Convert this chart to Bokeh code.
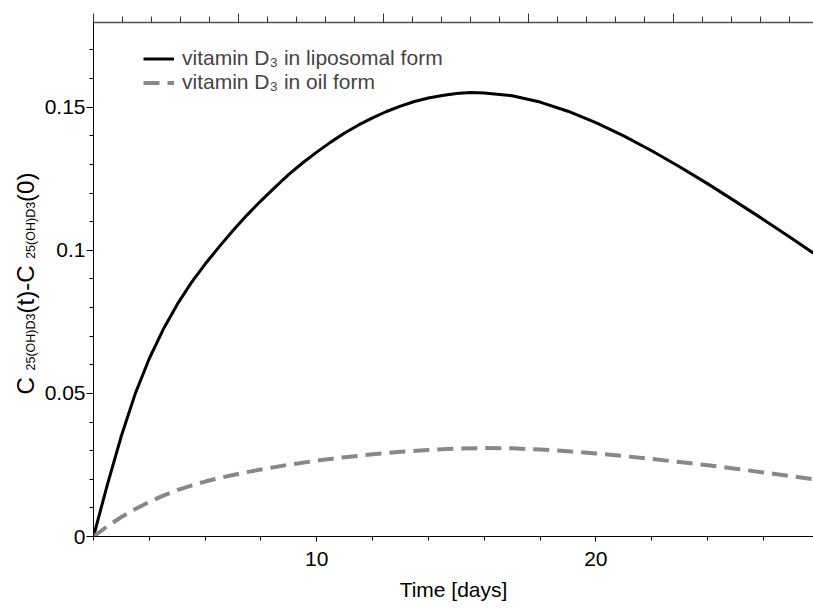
import math
from bokeh.plotting import figure
from bokeh.layouts import row
from bokeh.models import (Range1d, LinearAxis, SingleIntervalTicker, Legend, LegendItem,
                          CustomJSTickFormatter, ColumnDataSource)
from bokeh.core.properties import value
from bokeh.embed import file_html
from bokeh.resources import INLINE

# ---------------- data ----------------
t_lipo = [2.0, 2.5, 3.0, 3.5, 4.0, 4.5, 5.0, 5.5, 6.0, 6.5, 7.0, 7.5, 8.0, 8.5, 9.0,
          9.5, 10.0, 10.5, 11.0, 11.5, 12.0, 12.5, 13.0, 13.5, 14.0, 14.5, 15.0, 15.5,
          16.0, 17.0, 18.0, 19.0, 20.0, 21.0, 22.0, 23.0, 24.0, 25.0, 26.0, 27.0, 27.8]
liposomal = [0.0, 0.0182, 0.0352, 0.0500, 0.0622, 0.0724, 0.0811, 0.0886, 0.0952,
             0.1012, 0.1069, 0.1123, 0.1173, 0.1220, 0.1265, 0.1306, 0.1343, 0.1378,
             0.1410, 0.1438, 0.1463, 0.1485, 0.1504, 0.1520, 0.1532, 0.1541, 0.1548,
             0.1551, 0.1550, 0.1540, 0.1518, 0.1486, 0.1446, 0.1400, 0.1348, 0.1292,
             0.1233, 0.1171, 0.1108, 0.1043, 0.0990]
t_oil = [2.0, 2.5, 3.0, 3.5, 4.0, 4.5, 5.0, 5.5, 6.0, 6.5, 7.0, 7.5, 8.0, 9.0, 10.0,
         11.0, 12.0, 13.0, 14.0, 15.0, 16.0, 17.0, 18.0, 19.0, 20.0, 21.0, 22.0, 23.0,
         24.0, 25.0, 26.0, 27.0, 27.8]
oil = [0.0, 0.0036, 0.0068, 0.0096, 0.0121, 0.0143, 0.0162, 0.0178, 0.0192, 0.0204,
       0.0215, 0.0225, 0.0234, 0.0251, 0.0265, 0.0277, 0.0287, 0.0296, 0.0302, 0.0307,
       0.0309, 0.0308, 0.0304, 0.0298, 0.0290, 0.0281, 0.0271, 0.0260, 0.0249, 0.0237,
       0.0224, 0.0211, 0.0200]
series_labels = ["vitamin D\u2083 in liposomal form", "vitamin D\u2083 in oil form"]
x_label = "Time [days]"
# y-axis title  C_{25(OH)D3}(t) - C_{25(OH)D3}(0), written piece by piece
y_label_parts = ["C", "25(OH)D3", "(t)-C", "25(OH)D3", "(0)"]
y_label_is_sub = [False, True, False, True, False]
y_label_space_after = [True, False, True, False, False]

FONT = "Liberation Sans"
LW = 41           # width of the strip holding the y-axis title
W, H = 813, 608
TOP, BOTTOM = 22, 72   # border sizes above / below the plotting frame

p = figure(width=W - LW, height=H, output_backend="svg", toolbar_location=None,
           x_range=Range1d(2, 27.8), y_range=Range1d(0, 0.1796),
           min_border_left=91 - LW, min_border_right=0, min_border_top=TOP,
           min_border_bottom=BOTTOM)
p.grid.visible = False
p.outline_line_color = None
p.background_fill_color = "white"

# bottom axis
xa = p.xaxis[0]
xa.ticker = SingleIntervalTicker(interval=10, num_minor_ticks=5)
xa.major_tick_in = 0
xa.major_tick_out = 5
xa.minor_tick_in = 0
xa.minor_tick_out = 4
xa.axis_line_color = "black"
xa.major_tick_line_color = "black"
xa.minor_tick_line_color = "black"
xa.major_label_text_font = FONT
xa.major_label_text_font_size = "21px"
xa.major_label_text_color = "black"
xa.major_label_standoff = 10
xa.axis_label = x_label
xa.axis_label_text_font = FONT
xa.axis_label_text_font_size = "21px"
xa.axis_label_text_font_style = "normal"
xa.axis_label_text_color = "black"
xa.axis_label_standoff = 9

# left axis
ya = p.yaxis[0]
ya.ticker = SingleIntervalTicker(interval=0.05, num_minor_ticks=5)
ya.formatter = CustomJSTickFormatter(
    code="return tick.toFixed(2).replace(/0+$/, '').replace(/\\.$/, '');")
ya.major_tick_in = 0
ya.major_tick_out = 7
ya.minor_tick_in = 0
ya.minor_tick_out = 4
ya.axis_line_color = "black"
ya.major_tick_line_color = "black"
ya.minor_tick_line_color = "black"
ya.major_label_text_font = FONT
ya.major_label_text_font_size = "21px"
ya.major_label_text_color = "black"
ya.major_label_standoff = 1

# top axis (unlabelled tick scale)
p.extra_x_ranges = {"top": Range1d(0, (813 - 91) / 29.06)}
ta = LinearAxis(x_range_name="top",
                ticker=SingleIntervalTicker(interval=5, num_minor_ticks=5),
                formatter=CustomJSTickFormatter(code="return '';"),
                major_tick_in=0, major_tick_out=9, minor_tick_in=0, minor_tick_out=6,
                major_label_standoff=0, major_label_text_font_size="1px",
                axis_line_color="#555555", axis_line_width=1.5,
                major_tick_line_color="#333333", minor_tick_line_color="#333333")
p.add_layout(ta, "above")

# curves
r1 = p.line(t_lipo, liposomal, line_color="black", line_width=3)
r2 = p.line(t_oil, oil, line_color="#888888", line_width=4, line_dash="16 8")

legend = Legend(items=[LegendItem(label=series_labels[0], renderers=[r1]),
                       LegendItem(label=series_labels[1], renderers=[r2])],
                location=(50, 442), padding=0, margin=0, spacing=0,
                glyph_width=31, glyph_height=23, label_height=23, label_standoff=8,
                label_text_font=FONT, label_text_font_size="21px",
                border_line_color=None, background_fill_alpha=0)
p.add_layout(legend)

# ---- strip with the rotated y-axis title (subscripts composed from pieces) ----
# its frame is aligned with the main frame, so map data y == (H - canvas y)
q = figure(width=LW, height=H, output_backend="svg", toolbar_location=None,
           x_range=Range1d(0, LW), y_range=Range1d(BOTTOM, H - TOP),
           min_border_left=0, min_border_right=0, min_border_top=TOP,
           min_border_bottom=BOTTOM, x_axis_location=None, y_axis_location=None)
q.grid.visible = False
q.outline_line_color = None

ARIAL = {"C": 0.722, " ": 0.278, "2": 0.556, "5": 0.556, "(": 0.333, ")": 0.333,
         "O": 0.778, "H": 0.722, "D": 0.722, "3": 0.556, "t": 0.278, "-": 0.333,
         "0": 0.556}
BIG, SMALL = 24.0, 12.5
BASE_BIG, BASE_SUB = 33.0, 35.0      # baseline positions (px from left)
CENTER_Y = 283.0                     # centre of the title (px from top)
MID = 0.345                          # middle of text above the baseline, in em

widths = [sum(ARIAL[c] for c in txt) * (SMALL if sub else BIG)
          for txt, sub in zip(y_label_parts, y_label_is_sub)]
gaps = [ARIAL[" "] * BIG if sp else 0.0 for sp in y_label_space_after]
total = sum(widths) + sum(gaps)
start = CENTER_Y + total / 2.0       # canvas y where the text begins (bottom)
xs, ys, sizes = [], [], []
run = 0.0
for txt, sub, w, g in zip(y_label_parts, y_label_is_sub, widths, gaps):
    size = SMALL if sub else BIG
    base = BASE_SUB if sub else BASE_BIG
    xs.append(base - MID * size)
    ys.append(H - (start - run - w / 2.0))
    sizes.append(f"{size}px")
    run += w + g
src = ColumnDataSource(dict(x=xs, y=ys, text=y_label_parts, size=sizes))
q.text(x="x", y="y", text="text", source=src, angle=math.pi / 2,
       text_align="center", text_baseline="middle", text_font=value(FONT),
       text_font_size="size", text_color="black")

layout = row(q, p, spacing=0)
open("out.html", "w").write(file_html(layout, INLINE))
